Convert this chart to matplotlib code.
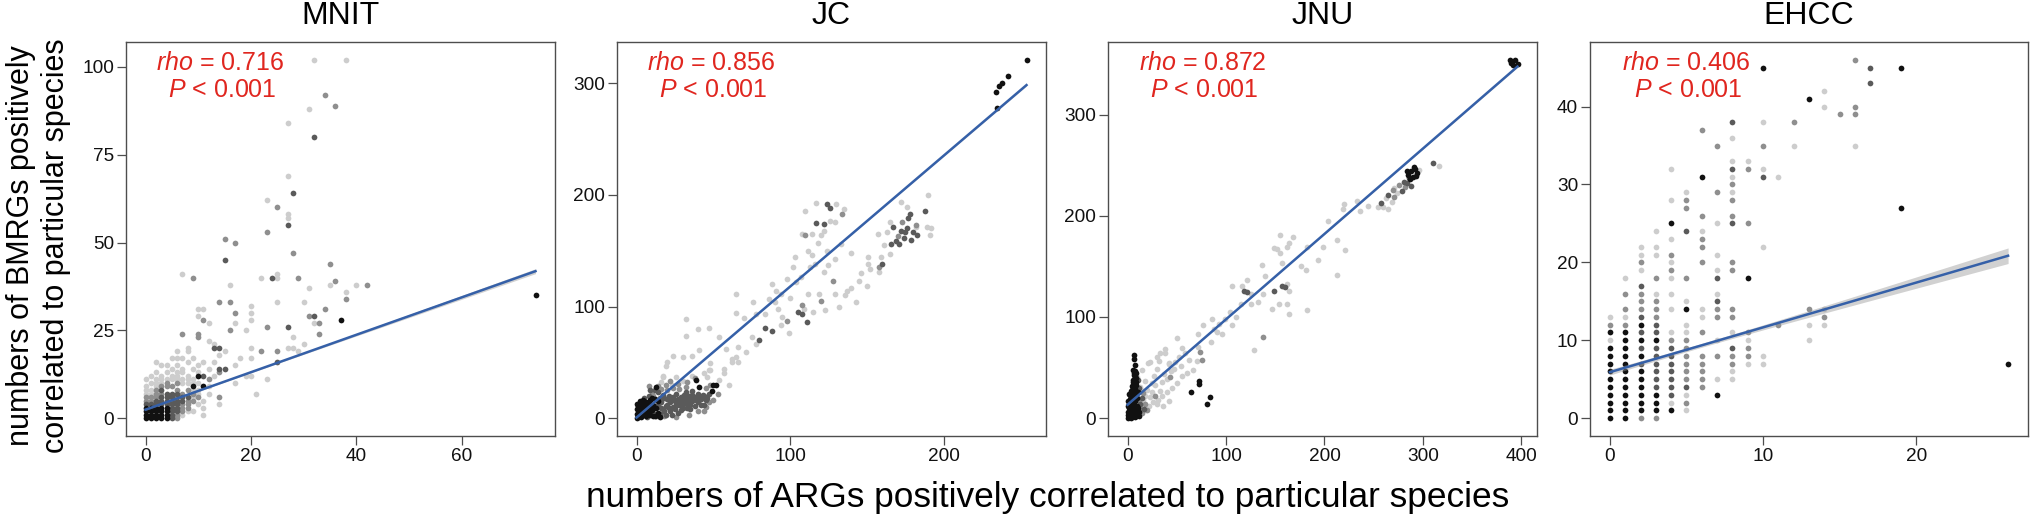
import numpy as np
import matplotlib
matplotlib.use("Agg")
import matplotlib.pyplot as plt

plt.rcParams['font.family'] = ['Liberation Sans', 'DejaVu Sans']
plt.rcParams['mathtext.fontset'] = 'custom'
plt.rcParams['mathtext.rm'] = 'Liberation Sans'
plt.rcParams['mathtext.it'] = 'Liberation Sans:italic'

# ---- data: (x, y) points grouped by grey level ----
# level 1 = light grey ... level 5 = black

# MNIT
mnit_l1 = [(32, 102), (38, 102), (31, 88), (27, 84), (27, 69), (23, 62), (27, 58), (27, 57),
           (7, 41), (22, 40), (25, 40), (25, 41), (40, 38), (35, 38), (16, 38), (31, 37),
           (38, 36), (25, 33), (30, 33), (10, 31), (11, 31), (20, 32), (20, 30), (10, 29),
           (20, 28), (12, 27), (32, 27), (17, 27), (19, 25), (28, 23), (12, 22), (13, 21),
           (30, 21), (8, 20), (20, 20), (27, 20), (28, 20), (29, 19), (14, 18), (15, 19),
           (18, 17), (20, 17), (6, 17), (2, 16), (17, 15), (10, 13), (19, 12), (20, 12),
           (23, 11), (17, 10), (21, 7), (14, 4), (11, 1),
           (0, 7), (0, 8), (1, 7), (1, 8), (0, 9), (1, 10), (2, 9), (2, 10), (3, 10), (2, 11),
           (3, 11), (4, 11), (5, 11), (3, 12), (5, 12), (6, 12), (2, 13), (4, 13), (6, 13),
           (7, 13), (5, 14), (7, 14), (8, 12), (8, 11), (9, 11), (7, 11), (6, 11), (7, 10),
           (8, 10), (9, 10), (10, 10), (9, 8), (10, 8), (10, 7), (9, 6), (10, 4), (11, 5),
           (11, 3), (8, 2), (7, 1), (9, 2), (12, 7), (6, 15), (4, 15), (3, 15), (1, 12),
           (0, 11), (7, 17), (5, 17), (6, 19), (8, 16), (8, 19), (9, 17), (9, 14), (10, 15),
           (11, 16), (12, 14), (13, 12), (12, 9), (13, 16)]
mnit_l3 = [(0, 5), (1, 5), (0, 6), (1, 6), (2, 6), (2, 7), (3, 7), (6, 1), (6, 0), (7, 2),
           (7, 3), (7, 4), (8, 4), (8, 3), (8, 5), (6, 6), (7, 7), (6, 8), (8, 8), (9, 7),
           (9, 5), (10, 6), (2, 8), (3, 9), (4, 9), (5, 9), (4, 10), (6, 10), (12, 11),
           (14, 13), (14, 6), (34, 92), (36, 89), (25, 60), (23, 53), (15, 51), (17, 50),
           (28, 47), (35, 44), (9, 40), (29, 40), (36, 39), (42, 38), (38, 34), (14, 33),
           (16, 33), (17, 30), (34, 31), (31, 29), (11, 28), (33, 27), (16, 25), (23, 26),
           (7, 24), (10, 24), (10, 23), (33, 24), (25, 19), (22, 19)]
mnit_l4 = [(0, 4), (1, 4), (2, 4), (3, 4), (4, 4), (2, 5), (3, 5), (4, 5), (5, 5), (5, 4),
           (5, 3), (5, 2), (5, 1), (5, 0), (6, 2), (6, 3), (6, 4), (6, 5), (3, 6), (4, 6),
           (5, 6), (4, 7), (5, 7), (6, 7), (7, 6), (8, 6), (7, 5), (11, 12), (13, 20),
           (14, 20), (14, 14), (15, 14), (25, 16), (32, 80), (28, 64), (27, 55), (15, 45),
           (24, 40), (32, 29), (27, 26), (3, 8)]
mnit_l5 = [(0, 0), (1, 0), (2, 0), (3, 0), (4, 0), (0, 1), (1, 1), (2, 1), (3, 1), (4, 1),
           (0, 2), (1, 2), (2, 2), (3, 2), (4, 2), (0, 3), (1, 3), (2, 3), (3, 3), (4, 3),
           (9, 9), (11, 9), (10, 12), (37, 28), (74, 35)]

# JC
jc_l1 = [(110, 186), (117, 193), (130, 192), (135, 187), (126, 177), (129, 176), (108, 165),
         (114, 165), (120, 164), (122, 168), (112, 150), (114, 146), (103, 144), (102, 135),
         (107, 126), (104, 122), (113, 135), (116, 138), (125, 137), (129, 143), (137, 114),
         (136, 110), (140, 117), (145, 123), (129, 111), (122, 131), (119, 111), (112, 111),
         (115, 95), (109, 98), (95, 91), (92, 98), (90, 104), (94, 111), (91, 114), (86, 107),
         (94, 83), (76, 104), (78, 93), (75, 73), (71, 59), (66, 64), (65, 55), (62, 53),
         (65, 111), (65, 94), (54, 73), (57, 44), (48, 49), (47, 43), (41, 61), (40, 80),
         (47, 81), (32, 89), (32, 74), (30, 55), (36, 56), (24, 56), (20, 50), (17, 37),
         (26, 37), (44, 40), (19, 47), (17, 38), (16, 32), (62, 50), (66, 50), (57, 40),
         (48, 43), (46, 37), (172, 194), (176, 189), (182, 171), (190, 200), (189, 171),
         (192, 170), (191, 164), (157, 165), (165, 176), (163, 167), (161, 155), (165, 147),
         (159, 144), (151, 144), (151, 138), (152, 134), (158, 131), (99, 76), (84, 93),
         (70, 90), (88, 120), (98, 125), (124, 150), (118, 157), (133, 156), (140, 148),
         (146, 130), (150, 118), (143, 104), (132, 100), (123, 97), (100, 108), (58, 62),
         (78, 66), (23, 30), (30, 33), (36, 38), (54, 34), (60, 30)]
jc_l3 = [(134, 183), (110, 164), (128, 123), (108, 101), (98, 87), (173, 176), (158, 135),
         (10, 22), (16, 26), (20, 25), (24, 27), (28, 26), (32, 28), (18, 2), (26, 1),
         (34, 3), (40, 6), (45, 10), (47, 14), (11, 20), (182, 173), (170, 163), (120, 105),
         (14, 29), (19, 30), (27, 31), (33, 32), (38, 36), (22, 33), (45, 27), (48, 30),
         (8, 29), (53, 22), (44, 6), (50, 16)]
jc_l4 = [(124, 192), (126, 188), (117, 175), (122, 174), (105, 95), (108, 93), (111, 86),
         (88, 78), (84, 81), (80, 70), (178, 183), (177, 179), (167, 171), (172, 168),
         (175, 167), (169, 159), (166, 156), (171, 156), (174, 161), (180, 167), (183, 164),
         (188, 186), (160, 138), (15, 4), (17, 8), (19, 3), (20, 12), (22, 6), (24, 10),
         (25, 15), (27, 5), (28, 12), (30, 9), (31, 16), (33, 13), (34, 20), (35, 8), (36, 15),
         (38, 11), (38, 19), (40, 14), (42, 17), (43, 21), (44, 12), (16, 14), (18, 18),
         (21, 20), (23, 17), (26, 22), (29, 19), (32, 23), (36, 24), (9, 25), (14, 23),
         (46, 18), (176, 170), (179, 160),
         (3, 5), (5, 3), (7, 1), (9, 9), (11, 5), (13, 2), (14, 12), (16, 9), (18, 6), (19, 11),
         (21, 9), (22, 14), (23, 3), (25, 8), (26, 12), (27, 17), (29, 7), (30, 13), (31, 21),
         (33, 9), (34, 16), (35, 12), (37, 18), (39, 16), (41, 19), (42, 12), (44, 20),
         (45, 16), (47, 22), (15, 18), (17, 21), (20, 17), (24, 19), (28, 15), (32, 18),
         (36, 21), (40, 22), (12, 25), (8, 20), (5, 18)]
jc_l5 = [(254, 321), (242, 307), (238, 300), (236, 298), (234, 292), (235, 278),
         (0, 0), (1, 3), (2, 6), (0, 8), (3, 1), (4, 4), (5, 8), (1, 11), (3, 13), (6, 2),
         (7, 6), (8, 10), (6, 14), (9, 3), (10, 7), (11, 12), (2, 15), (12, 2), (13, 9),
         (9, 16), (12, 17), (14, 5), (4, 10), (7, 12), (0, 4), (2, 10),
         (1, 1), (3, 3), (5, 5), (2, 8), (4, 7), (6, 10), (8, 5), (10, 10), (11, 2), (0, 13),
         (5, 12), (8, 14), (4, 16), (10, 18), (14, 15), (15, 1),
         (39, 34), (41, 28), (50, 30), (52, 30), (49, 24), (13, 28)]

# JNU
jnu_l1 = [(296, 245), (316, 249), (271, 227), (259, 209), (265, 207), (254, 209), (269, 214),
          (274, 222), (233, 215), (220, 212), (219, 207), (221, 166), (213, 176), (213, 141),
          (204, 195), (199, 169), (193, 156), (182, 169), (181, 146), (182, 107), (168, 179),
          (164, 173), (162, 169), (155, 181), (152, 167), (149, 168), (157, 153), (155, 163),
          (164, 126), (162, 133), (162, 113), (164, 103), (154, 113), (147, 108), (137, 151),
          (138, 123), (125, 123), (121, 136), (116, 131), (106, 131), (115, 113), (125, 113),
          (133, 115), (128, 67), (104, 105), (106, 92), (99, 98), (93, 93), (86, 98), (88, 88),
          (91, 85), (96, 83), (77, 92), (72, 83), (72, 70), (71, 56), (50, 79), (55, 69),
          (54, 51), (47, 49), (42, 54), (38, 68), (33, 64), (30, 60), (37, 44), (40, 26),
          (33, 27), (23, 21), (26, 16), (16, 18), (30, 14), (18, 37), (23, 55), (10, 41),
          (13, 31), (21, 54), (32, 56), (38, 64), (42, 53), (30, 49), (25, 35), (45, 30),
          (20, 28), (35, 36), (15, 48), (60, 45), (85, 75), (110, 100), (140, 140),
          (176, 150), (236, 205), (262, 218), (244, 210),
          (14, 28), (18, 22), (22, 12), (25, 26), (28, 33), (31, 18), (35, 22), (40, 39),
          (44, 47), (48, 55), (52, 60), (58, 64), (62, 57), (66, 48), (27, 42), (19, 8),
          (36, 12), (42, 17), (50, 35), (55, 42)]
jnu_l3 = [(138, 80), (74, 65), (76, 57), (43, 41), (276, 230), (271, 219), (12, 18),
          (14, 10), (16, 25), (15, 5), (18, 14), (20, 8), (28, 22), (270, 225), (282, 228)]
jnu_l4 = [(281, 233), (279, 224), (284, 232), (288, 229), (310, 252), (264, 220),
          (257, 213), (160, 130), (157, 131), (149, 126), (118, 126), (121, 125), (286, 237),
          (13, 14), (15, 20), (12, 30), (11, 38), (17, 9)]
jnu_l5 = [(388, 354), (393, 354), (391, 349), (396, 350), (389, 351),
          (285, 240), (288, 244), (292, 246), (294, 242), (290, 238), (287, 236), (293, 239),
          (291, 248), (284, 244), (64, 26), (73, 37), (73, 34), (84, 21), (81, 14),
          (0, 0), (2, 2), (4, 0), (6, 3), (8, 1), (10, 4), (1, 6), (3, 8), (5, 7), (7, 9),
          (9, 7), (11, 10), (0, 12), (2, 14), (4, 13), (6, 15), (8, 17), (3, 19), (5, 21),
          (7, 20), (9, 23), (2, 24), (4, 27), (6, 26), (8, 29), (5, 32), (7, 34), (9, 36),
          (6, 38), (8, 40), (7, 43), (9, 45), (8, 47), (7, 58), (7, 62), (10, 12), (12, 6),
          (12, 2), (1, 3), (3, 5), (5, 10), (7, 5), (9, 11), (1, 17), (3, 23), (5, 28),
          (7, 30), (9, 33), (6, 36), (8, 42), (7, 45), (9, 40), (6, 48), (8, 52), (5, 16),
          (3, 14), (10, 20), (11, 26), (7, 13), (4, 3), (2, 10)]

# EHCC
ehcc_l1 = [(0, 10), (0, 13), (1, 13), (1, 18), (2, 19), (2, 21), (2, 22), (3, 16), (3, 21),
           (3, 22), (3, 24), (4, 2), (4, 11), (4, 14), (4, 16), (4, 18), (4, 20), (4, 23),
           (4, 28), (4, 32), (5, 1), (5, 3), (5, 11), (5, 12), (5, 15), (5, 29), (6, 13),
           (6, 14), (6, 24), (7, 5), (7, 10), (7, 16), (7, 19), (7, 21), (7, 25), (8, 5),
           (8, 6), (8, 11), (8, 29), (8, 31), (8, 33), (8, 36), (9, 7), (9, 10), (9, 33),
           (10, 7), (10, 8), (10, 22), (10, 32), (10, 38), (11, 31), (12, 35), (13, 10),
           (13, 12), (14, 12), (14, 14), (14, 40), (14, 42), (16, 35)]
ehcc_l3 = [(0, 12), (1, 12), (1, 14), (1, 16), (2, 0), (2, 14), (2, 15), (2, 16), (2, 20),
           (3, 0), (3, 13), (3, 14), (3, 15), (3, 18), (4, 10), (4, 19), (4, 21), (5, 2),
           (5, 5), (5, 6), (5, 7), (5, 8), (5, 9), (5, 10), (5, 18), (5, 27), (5, 28), (6, 4),
           (6, 5), (6, 6), (6, 7), (6, 8), (6, 11), (6, 20), (6, 22), (6, 23), (6, 26), (6, 37),
           (7, 8), (7, 13), (7, 14), (7, 29), (7, 35), (8, 7), (8, 8), (8, 13), (8, 14), (8, 19),
           (8, 20), (8, 26), (8, 28), (8, 30), (9, 8), (9, 9), (9, 11), (9, 25), (9, 32),
           (10, 35), (11, 12), (12, 38), (13, 14), (14, 13), (15, 39), (16, 39), (16, 40),
           (16, 46)]
ehcc_l4 = [(2, 7), (2, 9), (2, 11), (2, 13), (2, 17), (3, 4), (3, 5), (3, 6), (3, 7), (3, 8),
           (3, 9), (3, 11), (3, 12), (4, 3), (4, 4), (4, 5), (4, 6), (4, 7), (4, 8), (4, 9),
           (5, 4), (5, 24), (7, 15), (7, 18), (8, 9), (8, 25), (8, 32), (8, 38), (10, 31),
           (17, 43), (17, 45)]
ehcc_l5 = [(0, 0), (0, 1), (0, 2), (0, 3), (0, 4), (0, 5), (0, 6), (0, 7), (0, 8), (0, 9),
           (0, 11), (1, 0), (1, 1), (1, 2), (1, 3), (1, 4), (1, 5), (1, 6), (1, 7), (1, 8),
           (1, 9), (1, 10), (1, 11), (2, 1), (2, 2), (2, 3), (2, 4), (2, 5), (2, 6), (2, 8),
           (2, 10), (2, 12), (3, 1), (3, 2), (3, 3), (3, 10), (4, 1), (4, 25), (5, 14),
           (6, 31), (7, 3), (9, 18), (10, 45), (13, 41), (19, 27), (19, 45), (26, 7)]

site_names = ['MNIT', 'JC', 'JNU', 'EHCC']
rho_values = ['0.716', '0.856', '0.872', '0.406']
fit_intercept = [2.4, 0.5, 13.2, 5.9]
fit_slope = [0.533, 1.173, 0.844, 0.575]
ci_mid_hw = [0.15, 0.3, 0.3, 0.25]
ci_end_hw = [0.7, 0.8, 0.8, 1.0]
x_ticks = [[0, 20, 40, 60], [0, 100, 200], [0, 100, 200, 300, 400], [0, 10, 20]]
y_ticks = [[0, 25, 50, 75, 100], [0, 100, 200, 300], [0, 100, 200, 300], [0, 10, 20, 30, 40]]

panel_points = [
    [mnit_l1, mnit_l3, mnit_l4, mnit_l5],
    [jc_l1, jc_l3, jc_l4, jc_l5],
    [jnu_l1, jnu_l3, jnu_l4, jnu_l5],
    [ehcc_l1, ehcc_l3, ehcc_l4, ehcc_l5],
]
level_colors = ['#cdcdcd', '#8f8f8f', '#5a5a5a', '#111111']

fig = plt.figure(figsize=(20.32, 5.28), dpi=100)
lefts = [126, 617, 1108, 1590]
widths = [429, 429, 429, 438]
W, H = 2032, 528

for i in range(4):
    ax = fig.add_axes([lefts[i] / W, 1 - 436 / H, widths[i] / W, 394 / H])
    all_x, all_y = [], []
    for pts, col in zip(panel_points[i], level_colors):
        xs = np.array([p[0] for p in pts], float)
        ys = np.array([p[1] for p in pts], float)
        all_x.extend(xs)
        all_y.extend(ys)
        ax.scatter(xs, ys, s=17, color=col, linewidths=0, zorder=2)
    all_x = np.array(all_x)
    all_y = np.array(all_y)

    # fitted line with confidence band
    xl = np.linspace(all_x.min(), all_x.max(), 100)
    yl = fit_intercept[i] + fit_slope[i] * xl
    xm = all_x.mean()
    span = max(abs(all_x.max() - xm), abs(all_x.min() - xm))
    hw = np.sqrt(ci_mid_hw[i] ** 2 + (ci_end_hw[i] ** 2 - ci_mid_hw[i] ** 2) * ((xl - xm) / span) ** 2)
    ax.fill_between(xl, yl - hw, yl + hw, color='#999999', alpha=0.45, linewidth=0, zorder=3)
    ax.plot(xl, yl, color='#3560a8', lw=1.8, zorder=4)

    xr = all_x.max() - all_x.min()
    yr = all_y.max() - all_y.min()
    ax.set_xlim(all_x.min() - 0.05 * xr, all_x.max() + 0.05 * xr)
    ax.set_ylim(all_y.min() - 0.05 * yr, all_y.max() + 0.05 * yr)
    ax.set_xticks(x_ticks[i])
    ax.set_yticks(y_ticks[i])
    ax.tick_params(length=6.5, width=0.9, color='#4d4d4d', labelsize=13.7,
                   labelcolor='#111111', pad=2)
    for sp in ax.spines.values():
        sp.set_color('#4d4d4d')
        sp.set_linewidth(1.0)

    ax.text(0.5, 1.066, site_names[i], transform=ax.transAxes, ha='center', va='center',
            fontsize=23)
    ax.text(0.22, 0.947, r'$\mathit{rho}$ = ' + rho_values[i], transform=ax.transAxes,
            ha='center', va='center', fontsize=18, color='#e0261f')
    ax.text(0.225, 0.878, r'$\mathit{P}$ < 0.001', transform=ax.transAxes,
            ha='center', va='center', fontsize=18, color='#e0261f')

fig.text(0.019, 0.535, 'numbers of BMRGs positively\ncorrelated to particular species',
         rotation=90, ha='center', va='center', fontsize=22, linespacing=1.2)
fig.text(0.5157, 0.057, 'numbers of ARGs positively correlated to particular species',
         ha='center', va='center', fontsize=25.4)

fig.savefig('out.png', dpi=100)
